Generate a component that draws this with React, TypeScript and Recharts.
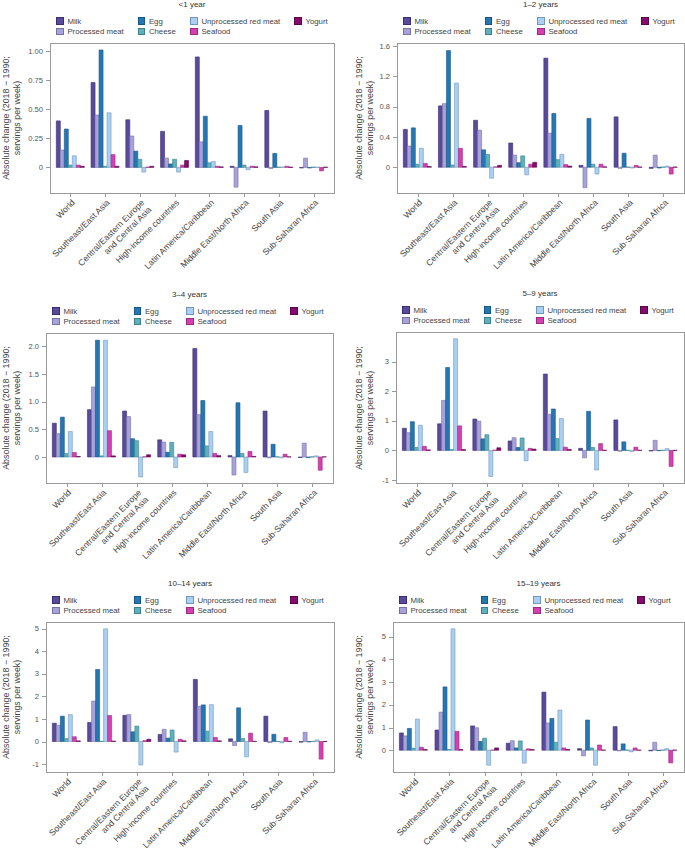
import { BarChart, Bar, XAxis, YAxis } from 'recharts';

const FONT = '"Liberation Sans", Arial, sans-serif';

const REGIONS = [
  'World',
  'Southeast/East Asia',
  'Central/Eastern Europe\nand Central Asia',
  'High-income countries',
  'Latin America/Caribbean',
  'Middle East/North Africa',
  'South Asia',
  'Sub-Saharan Africa',
];

const FOODS = ['Milk', 'Processed meat', 'Egg', 'Cheese', 'Unprocessed red meat', 'Seafood', 'Yogurt'];
const FILLS = ['#5a4a9c', '#a7a3da', '#2577b3', '#5fb0ba', '#a9cff2', '#d63fb1', '#870b6c'];
const EDGES = ['#3a2e70', '#77729f', '#17568a', '#3c8189', '#7397bb', '#9c2a81', '#5a0748'];

// legend grid: columns of food indexes, filled top to bottom
const LEGEND_COLS = [[0, 1], [2, 3], [4, 5], [6]];

// each row follows FOODS, each column follows REGIONS
const AGE_LT1 = [
  [0.40, 0.73, 0.41, 0.31, 0.95, 0.01, 0.49, -0.005],
  [0.15, 0.45, 0.27, 0.08, 0.22, -0.17, -0.01, 0.08],
  [0.33, 1.01, 0.14, 0.03, 0.44, 0.36, 0.12, -0.005],
  [0.02, 0.01, 0.07, 0.07, 0.04, 0.02, 0.003, 0.003],
  [0.10, 0.47, -0.04, -0.04, 0.05, -0.02, 0.003, 0.003],
  [0.02, 0.11, 0.003, 0.02, 0.01, 0.01, 0.01, -0.03],
  [0.01, 0.01, 0.01, 0.06, 0.005, 0.005, 0.003, 0.003],
];

const AGE_1_2 = [
  [0.50, 0.81, 0.62, 0.32, 1.44, 0.025, 0.665, -0.015],
  [0.28, 0.84, 0.49, 0.16, 0.45, -0.27, -0.015, 0.16],
  [0.52, 1.54, 0.23, 0.06, 0.71, 0.645, 0.185, -0.01],
  [0.04, 0.03, 0.17, 0.15, 0.10, 0.04, 0.003, 0.003],
  [0.25, 1.11, -0.145, -0.10, 0.17, -0.09, -0.01, 0.015],
  [0.05, 0.25, 0.005, 0.04, 0.035, 0.04, 0.025, -0.09],
  [0.01, 0.01, 0.025, 0.065, 0.015, 0.005, 0.003, 0.003],
];

const AGE_3_4 = [
  [0.61, 0.855, 0.83, 0.31, 1.96, 0.025, 0.83, -0.01],
  [0.42, 1.265, 0.73, 0.27, 0.765, -0.325, -0.015, 0.25],
  [0.72, 2.11, 0.33, 0.085, 1.02, 0.98, 0.23, -0.01],
  [0.06, 0.02, 0.295, 0.265, 0.2, 0.065, 0.003, 0.003],
  [0.46, 2.11, -0.36, -0.19, 0.46, -0.28, -0.015, 0.02],
  [0.08, 0.475, 0.003, 0.05, 0.065, 0.10, 0.05, -0.24],
  [0.01, 0.02, 0.04, 0.04, 0.025, 0.01, 0.003, 0.003],
];

const AGE_5_9 = [
  [0.75, 0.90, 1.06, 0.32, 2.58, 0.07, 1.03, -0.02],
  [0.60, 1.69, 0.99, 0.43, 1.22, -0.25, -0.03, 0.34],
  [0.97, 2.80, 0.39, 0.10, 1.40, 1.32, 0.29, -0.01],
  [0.10, 0.03, 0.53, 0.42, 0.40, 0.10, 0.005, 0.005],
  [0.85, 3.77, -0.88, -0.35, 1.08, -0.66, -0.04, 0.06],
  [0.14, 0.83, 0.01, 0.07, 0.11, 0.23, 0.11, -0.54],
  [0.02, 0.03, 0.09, 0.045, 0.035, 0.01, 0.005, 0.005],
];

const AGE_10_14 = [
  [0.81, 0.84, 1.16, 0.31, 2.75, 0.12, 1.12, -0.03],
  [0.72, 1.79, 1.19, 0.54, 1.56, -0.18, -0.05, 0.41],
  [1.12, 3.19, 0.43, 0.15, 1.62, 1.49, 0.32, -0.02],
  [0.13, 0.01, 0.68, 0.51, 0.46, 0.13, 0.005, 0.005],
  [1.19, 4.99, -1.04, -0.47, 1.63, -0.68, -0.06, 0.07],
  [0.21, 1.15, 0.04, 0.10, 0.18, 0.37, 0.18, -0.78],
  [0.03, 0.02, 0.10, 0.03, 0.03, 0.01, 0.01, 0.005],
];

const AGE_15_19 = [
  [0.76, 0.89, 1.07, 0.31, 2.56, 0.07, 1.04, -0.03],
  [0.63, 1.68, 0.99, 0.42, 1.20, -0.25, -0.03, 0.35],
  [0.96, 2.79, 0.39, 0.10, 1.40, 1.33, 0.28, -0.02],
  [0.09, 0.03, 0.53, 0.41, 0.35, 0.10, 0.005, 0.005],
  [1.37, 5.35, -0.66, -0.57, 1.77, -0.66, -0.07, 0.07],
  [0.13, 0.83, 0.005, 0.06, 0.10, 0.23, 0.10, -0.56],
  [0.03, 0.03, 0.10, 0.03, 0.03, 0.01, 0.005, 0.005],
];

// x0 = column start, L/R/T/B = plot box on the page (whole pixels)
const PANELS = [
  { title: '<1 year', values: AGE_LT1, x0: 0, L: 50, R: 334, T: 43, B: 193, domain: [-0.22, 1.07], ticks: [0, 0.25, 0.5, 0.75, 1], digits: 2 },
  { title: '1–2 years', values: AGE_1_2, x0: 342, L: 397, R: 684, T: 43, B: 193, domain: [-0.34, 1.64], ticks: [0, 0.4, 0.8, 1.2, 1.6], digits: 1 },
  { title: '3–4 years', values: AGE_3_4, x0: 0, L: 46, R: 333, T: 333, B: 483, domain: [-0.47, 2.24], ticks: [0, 0.5, 1, 1.5, 2], digits: 1 },
  { title: '5–9 years', values: AGE_5_9, x0: 342, L: 396, R: 684, T: 332, B: 483, domain: [-1.1, 4.0], ticks: [-1, 0, 1, 2, 3], digits: 0 },
  { title: '10–14 years', values: AGE_10_14, x0: 0, L: 46, R: 334, T: 622, B: 772, domain: [-1.35, 5.29], ticks: [-1, 0, 1, 2, 3, 4, 5], digits: 0 },
  { title: '15–19 years', values: AGE_15_19, x0: 342, L: 393, R: 684, T: 622, B: 772, domain: [-0.96, 5.65], ticks: [0, 1, 2, 3, 4, 5], digits: 0 },
];

const LEGEND_X = [6, 87.5, 140, 244];
const LEGEND_Y = [21.8, 11.4];
const X_AXIS_H = 95;
const TOP_PAD = 5;
const LINE = '#9a9a9a';

function RegionTick(props: any) {
  const { x, y, payload } = props;
  const lines = String(payload.value).split('\n');
  return (
    <g>
      <rect x={Math.round(x)} y={y - 6} width={1} height={4} fill={LINE} />
      <g transform={`translate(${x + 3},${y + 2})`}>
        <text transform="rotate(-45)" textAnchor="end" fontSize={8.6} fill="#444" fontFamily={FONT}>
          {lines.map((ln, i) => (
            <tspan key={i} x={0} dy={i === 0 ? '0.35em' : '1.15em'}>
              {ln}
            </tspan>
          ))}
        </text>
      </g>
    </g>
  );
}

function ValueTick(props: any) {
  const { x, y, payload, fmt } = props;
  return (
    <g>
      <rect x={x + 3} y={Math.round(y)} width={4} height={1} fill={LINE} />
      <text x={x} y={y} dy="0.35em" textAnchor="end" fontSize={7.6} fill="#555" fontFamily={FONT}>
        {fmt(payload.value)}
      </text>
    </g>
  );
}

// one straight edge of a plot frame, as a filled 1px strip
function Edge({ left, top, width, height }: { left: number; top: number; width: number; height: number }) {
  return (
    <div
      style={{
        position: 'absolute',
        left,
        top,
        width,
        height,
        backgroundColor: LINE,
        pointerEvents: 'none',
        zIndex: 5,
      }}
    />
  );
}

function Panel({ cfg }: { cfg: (typeof PANELS)[number] }) {
  const { title, values, x0, L, R, T, B, domain, ticks, digits } = cfg;
  const data = REGIONS.map((region, i) => {
    const row: Record<string, any> = { region };
    FOODS.forEach((_, k) => {
      row['s' + k] = values[k][i];
    });
    return row;
  });
  const cw = R - x0 + 2;
  const ch = B - T + TOP_PAD + X_AXIS_H;
  const labelX = x0 === 0 ? 11 : 363.5;
  const fmt = (v: number) => (v === 0 ? '0' : v.toFixed(digits));

  return (
    <>
      <div
        style={{
          position: 'absolute',
          left: (L + R) / 2,
          top: T - 39.5,
          transform: 'translate(-50%, -50%)',
          fontSize: 8,
          color: '#333',
          whiteSpace: 'nowrap',
        }}
      >
        {title}
      </div>
      {LEGEND_COLS.map((col, c) =>
        col.map((k, r) => (
          <div
            key={k}
            style={{
              position: 'absolute',
              left: L + LEGEND_X[c],
              top: T - LEGEND_Y[r] - 5,
              height: 10,
              display: 'flex',
              alignItems: 'center',
              fontSize: 7.8,
              color: '#444',
              whiteSpace: 'nowrap',
            }}
          >
            <span
              style={{
                display: 'inline-block',
                width: 5.6,
                height: 5.6,
                background: FILLS[k],
                border: `0.7px solid ${EDGES[k]}`,
                marginRight: 3.8,
              }}
            />
            {FOODS[k]}
          </div>
        ))
      )}
      <div
        style={{
          position: 'absolute',
          left: labelX,
          top: (T + B) / 2,
          transform: 'translate(-50%, -50%) rotate(-90deg)',
          fontSize: 8.9,
          lineHeight: '10.5px',
          color: '#444',
          textAlign: 'center',
          whiteSpace: 'nowrap',
        }}
      >
        Absolute change (2018 − 1990;
        <br />
        servings per week)
      </div>
      <div style={{ position: 'absolute', left: x0, top: T - TOP_PAD }}>
        <BarChart
          width={cw}
          height={ch}
          data={data}
          margin={{ top: TOP_PAD, right: 2, left: 0, bottom: 0 }}
          barCategoryGap="9.5%"
          barGap={0}
        >
          <XAxis
            dataKey="region"
            interval={0}
            tick={<RegionTick />}
            tickSize={4}
            tickMargin={2}
            height={X_AXIS_H}
            axisLine={false}
            tickLine={false}
            padding={{ left: 3, right: 3 }}
          />
          <YAxis
            type="number"
            domain={domain}
            ticks={ticks}
            allowDataOverflow
            interval={0}
            width={L - x0}
            tickSize={4}
            tickMargin={3}
            tick={<ValueTick fmt={fmt} />}
            axisLine={false}
            tickLine={false}
          />
          {FOODS.map((f, k) => (
            <Bar
              key={f}
              dataKey={'s' + k}
              name={f}
              fill={FILLS[k]}
              stroke={EDGES[k]}
              strokeWidth={0.6}
              isAnimationActive={false}
            />
          ))}
        </BarChart>
      </div>
      {/* plot frame */}
      <Edge left={L} top={T} width={R - L + 1} height={1} />
      <Edge left={L} top={B} width={R - L + 1} height={1} />
      <Edge left={L} top={T} width={1} height={B - T + 1} />
      <Edge left={R} top={T} width={1} height={B - T + 1} />
    </>
  );
}

export default function App() {
  return (
    <div
      style={{
        position: 'absolute',
        left: 0,
        top: 0,
        width: 685,
        height: 853,
        overflow: 'hidden',
        background: '#fff',
        fontFamily: FONT,
      }}
    >
      {PANELS.map((p) => (
        <Panel key={p.title} cfg={p} />
      ))}
    </div>
  );
}
